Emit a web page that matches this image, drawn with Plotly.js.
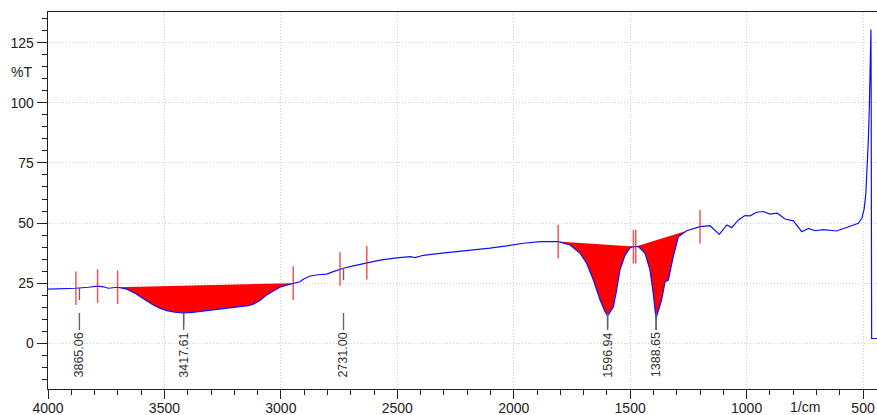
<!DOCTYPE html>
<html>
<head>
<meta charset="utf-8">
<script src="https://cdn.plot.ly/plotly-3.0.1.min.js"></script>
<style>html,body{margin:0;padding:0;background:#fff}#chart{width:877px;height:415px}</style>
</head>
<body>
<div id="chart"></div>
<script>
// Spectrum (wavenumber in 1/cm, transmittance in %T)
const wavenumber = [4000,3941,3880,3827,3787,3762,3741,3701,3662,3630,3605,3575,3548,3520,3490,3455,3418,3380,3347,3300,3261,3220,3175,3140,3118,3090,3061,3030,3004,2975,2947,2918,2904,2875,2840,2803,2775,2746,2731,2689,2631,2574,2503,2445,2424,2388,2317,2245,2174,2102,2030,1959,1887,1809,1758,1715,1687,1658,1629,1608,1597,1572,1558,1544,1522,1500,1486,1476,1465,1436,1415,1401,1389,1365,1350,1336,1315,1293,1257,1200,1157,1117,1100,1085,1064,1035,1007,985,957,928,900,868,835,799,763,734,706,670,613,570,520,505,495,488,482,477,473,470,468,466,465,464,463.5,463,440];
const transmittance = [22.5,22.6,22.9,23.3,23.8,23.5,22.9,23.3,22.5,21.0,19.4,17.5,15.9,14.6,13.6,12.9,12.6,12.9,13.3,13.8,14.4,14.8,15.2,15.7,16.3,17.8,20.1,22.0,23.3,24.2,25.0,25.6,26.6,28.0,28.5,28.8,29.8,30.9,31.2,32.2,33.5,34.6,35.5,36.0,35.6,36.6,37.4,38.1,38.8,39.6,40.5,41.6,42.3,42.3,40.9,37.4,33.3,26.3,18.0,13.1,11.4,15.2,22.2,30.5,36.7,39.8,40.2,40.2,40.2,37.4,30.5,20.8,10.4,18.0,25.6,26.3,36.0,44.3,46.8,48.5,48.9,45.3,47.5,49.2,48.1,51.3,53.1,53.0,54.5,54.8,53.7,54.1,51.7,50.9,46.4,47.8,46.8,47.3,46.7,48.3,49.9,52,56,62,72,85,98,112,125,130.5,105,80,37,2,2];

// Integrated (filled) band regions: start / end wavenumber
const fillStart = [3701, 2746, 1809, 1476];
const fillEnd = [2947, 2631, 1486, 1200];

// Red band-limit markers
const markerPos = [3880, 3787, 3701, 2947, 2746, 2631, 1809, 1486, 1476, 1200];

// Peak labels
const peakPos = [3865.06, 3417.61, 2731.00, 1596.94, 1388.65];
const peakText = ["3865.06", "3417.61", "2731.00", "1596.94", "1388.65"];

// Axis ticks
const xTickVals = [4000, 3500, 3000, 2500, 2000, 1500, 1000, 500];
const xTickText = ["4000", "3500", "3000", "2500", "2000", "1500", "1000", "500"];
const yTickVals = [0, 25, 50, 75, 100, 125];

function specAt(x) {
  for (let i = 0; i < wavenumber.length - 1; i++) {
    const a = wavenumber[i], b = wavenumber[i + 1];
    if (x === a) return transmittance[i];
    if (x <= a && x >= b) {
      const t = (a - x) / (a - b);
      return transmittance[i] + t * (transmittance[i + 1] - transmittance[i]);
    }
  }
  return transmittance[transmittance.length - 1];
}

const traces = [];
for (let r = 0; r < fillStart.length; r++) {
  const xs = [], ys = [];
  xs.push(fillStart[r]); ys.push(specAt(fillStart[r]));
  for (let i = 0; i < wavenumber.length; i++) {
    if (wavenumber[i] < fillStart[r] && wavenumber[i] > fillEnd[r]) {
      xs.push(wavenumber[i]); ys.push(transmittance[i]);
    }
  }
  xs.push(fillEnd[r]); ys.push(specAt(fillEnd[r]));
  traces.push({x: xs, y: ys, type: 'scatter', mode: 'lines', fill: 'toself',
    fillcolor: '#ff0000', line: {width: 0, color: '#ff0000'}, hoverinfo: 'skip', showlegend: false});
}
traces.push({x: wavenumber, y: transmittance, type: 'scatter', mode: 'lines',
  line: {color: '#1010ff', width: 1.2}, showlegend: false});

const shapes = [];
markerPos.forEach(function (m) {
  const v = specAt(m);
  shapes.push({type: 'line', xref: 'x', yref: 'y', x0: m, x1: m, y0: v - 7, y1: v + 7,
    line: {color: 'rgba(240,30,30,0.75)', width: 1.5}});
});
const annotations = [];
peakPos.forEach(function (p, k) {
  const v = specAt(p);
  shapes.push({type: 'line', xref: 'x', yref: 'y', x0: p, x1: p, y0: v, y1: v - 5,
    line: {color: '#5a6a6a', width: 1.4}});
  shapes.push({type: 'line', xref: 'x', yref: 'y', x0: p, x1: p, y0: 12.6, y1: 5.5,
    line: {color: '#5a6a6a', width: 1.4}});
  annotations.push({x: p, y: -4.9, xref: 'x', yref: 'y', text: peakText[k], showarrow: false,
    textangle: -90, font: {family: 'Liberation Sans, Arial, sans-serif', size: 12.5, color: '#333'}});
});
annotations.push({xref: 'paper', yref: 'y', x: 0, y: 113, xanchor: 'right', xshift: -14,
  text: '%T', showarrow: false, font: {family: 'Liberation Sans, Arial, sans-serif', size: 14, color: '#222'}});
annotations.push({xref: 'x', yref: 'paper', x: 750, y: 0, yanchor: 'top', yshift: -8,
  text: '1/cm', showarrow: false, font: {family: 'Liberation Sans, Arial, sans-serif', size: 14, color: '#222'}});

const layout = {
  width: 877, height: 415,
  margin: {l: 48, r: 0, t: 12, b: 26},
  paper_bgcolor: '#fff', plot_bgcolor: '#fff',
  font: {family: 'Liberation Sans, Arial, sans-serif', size: 14, color: '#222'},
  showlegend: false,
  xaxis: {range: [4000, 440], tickmode: 'array', tickvals: xTickVals, ticktext: xTickText,
    ticks: 'outside', ticklen: 9, tickwidth: 1, tickcolor: '#222', ticklabelstandoff: -3,
    showline: true, linecolor: '#222', linewidth: 1.3, mirror: true,
    showgrid: true, gridcolor: '#cfcfcf', griddash: '1px,2px', gridwidth: 1, zeroline: false,
    minor: {tickmode: 'linear', tick0: 0, dtick: 100, ticks: 'outside', ticklen: 5, tickcolor: '#222', showgrid: false}},
  yaxis: {range: [-19.0, 137.75], tickmode: 'array', tickvals: yTickVals,
    ticks: 'outside', ticklen: 10, tickwidth: 1, tickcolor: '#222',
    showline: true, linecolor: '#222', linewidth: 1.3,
    showgrid: true, gridcolor: '#cfcfcf', griddash: '1px,2px', gridwidth: 1, zeroline: false,
    minor: {tickmode: 'linear', tick0: 0, dtick: 5, ticks: 'outside', ticklen: 5, tickcolor: '#222', showgrid: false}},
  shapes: shapes,
  annotations: annotations
};
Plotly.newPlot('chart', traces, layout, {displayModeBar: false, staticPlot: true});
</script>
</body>
</html>
